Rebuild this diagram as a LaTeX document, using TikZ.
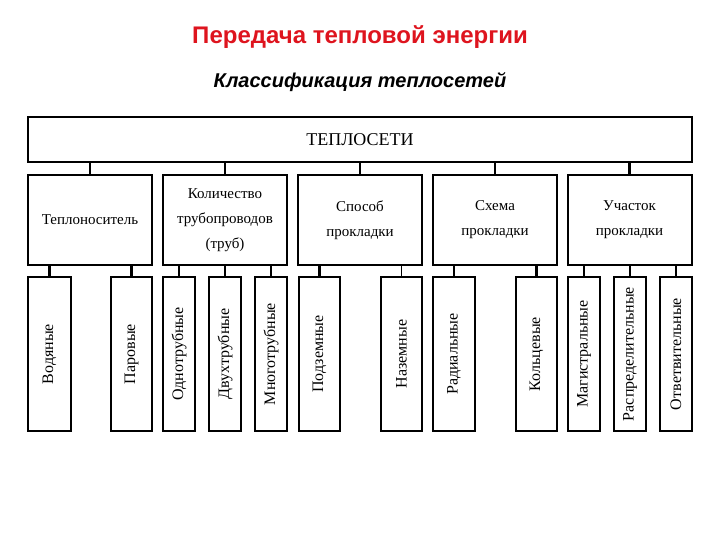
\documentclass[tikz,border=0pt]{standalone}
\usepackage{fontspec}
\usepackage{graphicx}
\setmainfont{Liberation Serif}
\newfontfamily\arialf{Liberation Sans}
\definecolor{titlered}{RGB}{222,20,30}
\tikzset{
  box/.style={draw, line width=2pt, inner sep=0pt, align=center, font=\fontsize{15}{25}\selectfont},
  catbox/.style={box, minimum width=124pt, minimum height=90pt},
  leaf/.style={box, minimum height=154pt, font=\fontsize{16}{18}\selectfont},
  conn/.style={line width=2.2pt},
  thinconn/.style={line width=0.8pt}
}
\begin{document}
\begin{tikzpicture}[x=1pt,y=-1pt]
\useasboundingbox (0,0) rectangle (720,540);
\node[anchor=base, text=titlered, font=\arialf\bfseries\fontsize{24}{28}\selectfont] (title) at (360,44) {Передача тепловой энергии};
\node[anchor=base, font=\arialf\bfseries\itshape\fontsize{20}{24}\selectfont] (sub) at (360,88) {Классификация теплосетей};

\node[box, minimum width=664pt, minimum height=45pt, font=\fontsize{18}{20}\selectfont] (top) at (360,139.5) {ТЕПЛОСЕТИ};

\node[catbox] (c1) at (90,220) {Теплоноситель};
\node[catbox] (c2) at (225,220) {Количество\\трубопроводов\\(труб)};
\node[catbox] (c3) at (360,220) {Способ\\прокладки};
\node[catbox] (c4) at (495,220) {Схема\\прокладки};
\node[catbox] (c5) at (629.5,220) {Участок\\прокладки};

\foreach \c in {c1,c2,c3,c4,c5}
  \draw[conn] (\c.north) -- (\c.north |- top.south);

\node[leaf, minimum width=43pt] (l1) at (49.5,354) {\rotatebox{90}{Водяные}};
\node[leaf, minimum width=41pt] (l2) at (131.5,354) {\rotatebox{90}{Паровые}};
\node[leaf, minimum width=32pt] (l3) at (179,354) {\rotatebox{90}{Однотрубные}};
\node[leaf, minimum width=32pt] (l4) at (225,354) {\rotatebox{90}{Двухтрубные}};
\node[leaf, minimum width=32pt] (l5) at (271,354) {\rotatebox{90}{Многотрубные}};
\node[leaf, minimum width=41pt] (l6) at (319.5,354) {\rotatebox{90}{Подземные}};
\node[leaf, minimum width=41pt] (l7) at (401.5,354) {\rotatebox{90}{Наземные}};
\node[leaf, minimum width=42pt] (l8) at (454,354) {\rotatebox{90}{Радиальные}};
\node[leaf, minimum width=41pt] (l9) at (536.5,354) {\rotatebox{90}{Кольцевые}};
\node[leaf, minimum width=32pt] (l10) at (584,354) {\rotatebox{90}{Магистральные}};
\node[leaf, minimum width=32pt] (l11) at (630,354) {\rotatebox{90}{Распределительные}};
\node[leaf, minimum width=32pt] (l12) at (676,354) {\rotatebox{90}{Ответвительные}};

\draw[conn] (l1.north) -- (l1.north |- c1.south);
\draw[conn] (l2.north) -- (l2.north |- c1.south);
\draw[conn] (l3.north) -- (l3.north |- c2.south);
\draw[conn] (l4.north) -- (l4.north |- c2.south);
\draw[conn] (l5.north) -- (l5.north |- c2.south);
\draw[conn] (l6.north) -- (l6.north |- c3.south);
\draw[thinconn] (l7.north) -- (l7.north |- c3.south);
\draw[conn] (l8.north) -- (l8.north |- c4.south);
\draw[conn] (l9.north) -- (l9.north |- c4.south);
\draw[conn] (l10.north) -- (l10.north |- c5.south);
\draw[conn] (l11.north) -- (l11.north |- c5.south);
\draw[conn] (l12.north) -- (l12.north |- c5.south);
\end{tikzpicture}
\end{document}
